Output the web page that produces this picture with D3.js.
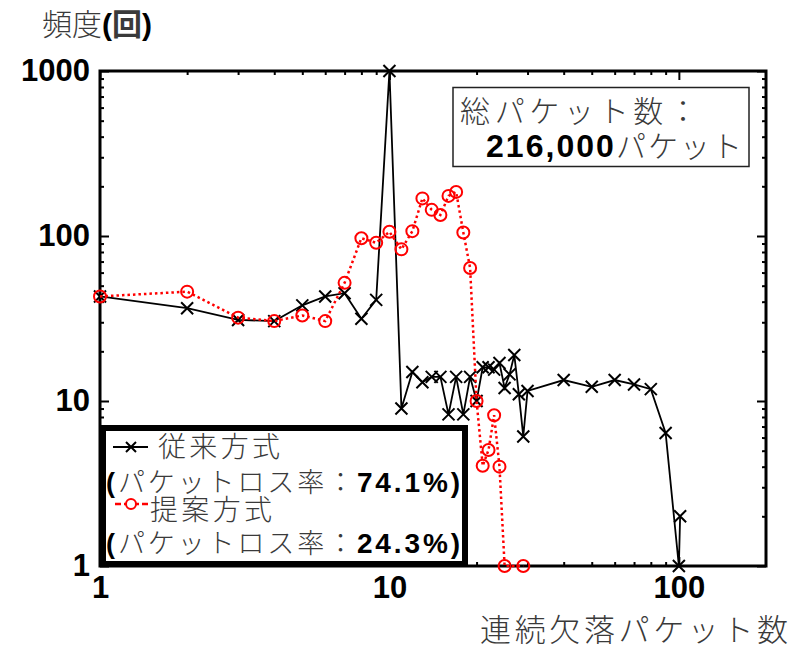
<!DOCTYPE html>
<html><head><meta charset="utf-8">
<script src="https://cdn.jsdelivr.net/npm/d3@7"></script>
<style>
body{margin:0;background:#fff;}
svg{display:block;}
.jp{font-family:"Noto Sans CJK JP","Noto Sans CJK SC",sans-serif;font-weight:300;fill:#3a3a3a;}
.num{font-family:"Liberation Sans",Arial,sans-serif;font-weight:bold;fill:#000;}
</style></head>
<body>
<svg id="chart" width="803" height="650"></svg>
<script>
// ---- data ----
const conventionalX = [1,2,3,4,5,6,7,8,9,10,11,12,13,14,15,16,17,18,19,20,21,22,23,24,25,26,27,28,29,30,40,50,60,70,80,90,100,101];
const conventionalY = [43,36.5,31,30.5,38,43,45,31.5,41,1000,9,15,13,14,14,8.3,14,8.3,14,10,16,16,15.5,17,12,14.5,19,11,6.1,11.5,13.4,12.2,13.4,12.6,11.8,6.4,1,2];
const proposedX = [1,2,3,4,5,6,7,8,9,10,11,12,13,14,15,16,17,18,19,20,21,22,23,24,25,29];
const proposedY = [43,46,32,30.5,33,30.5,52,97,91,106,83,107,169,144,134,175,185,105,64,10,4.05,5.05,8.2,4.0,1,1];
const xMajorTicks = [1,10,100];
const yMajorTicks = [1,10,100,1000];
const xTickLabels = ["1","10","100"];
const yTickLabels = ["1","10","100","1000"];
const seriesNames = ["従来方式","提案方式"];
const lossRates = ["74.1%","24.3%"];
const totalPackets = "216,000";
const yAxisTitle = "頻度";
const xAxisTitle = "連続欠落パケット数";

// ---- layout ----
const L=100, R=766, T=71, B=566;
const svg = d3.select("#chart");
const x = d3.scaleLog().domain([1,200]).range([L,R]);
const y = d3.scaleLog().domain([1,1000]).range([B,T]);

function minorTicks(lo,hi){
  const out=[];
  for(let d=lo; d<hi; d*=10){ for(let k=2;k<=9;k++){ const v=k*d; if(v<hi) out.push(v);} }
  return out;
}
const xMinor = minorTicks(1,200);
const yMinor = minorTicks(1,1000);

function styleAxis(g){ g.select(".domain").remove(); g.selectAll("line").attr("stroke","#000").attr("stroke-width",2); }

// ticks (inside)
svg.append("g").attr("transform",`translate(0,${B})`).call(d3.axisBottom(x).tickValues(xMajorTicks).tickSize(-9).tickFormat("")).call(styleAxis);
svg.append("g").attr("transform",`translate(0,${B})`).call(d3.axisBottom(x).tickValues(xMinor).tickSize(-4).tickFormat("")).call(styleAxis);
svg.append("g").attr("transform",`translate(0,${T})`).call(d3.axisTop(x).tickValues(xMajorTicks).tickSize(-9).tickFormat("")).call(styleAxis);
svg.append("g").attr("transform",`translate(0,${T})`).call(d3.axisTop(x).tickValues(xMinor).tickSize(-4).tickFormat("")).call(styleAxis);
svg.append("g").attr("transform",`translate(${L},0)`).call(d3.axisLeft(y).tickValues(yMajorTicks).tickSize(-9).tickFormat("")).call(styleAxis);
svg.append("g").attr("transform",`translate(${L},0)`).call(d3.axisLeft(y).tickValues(yMinor).tickSize(-4).tickFormat("")).call(styleAxis);
svg.append("g").attr("transform",`translate(${R},0)`).call(d3.axisRight(y).tickValues(yMajorTicks).tickSize(-9).tickFormat("")).call(styleAxis);
svg.append("g").attr("transform",`translate(${R},0)`).call(d3.axisRight(y).tickValues(yMinor).tickSize(-4).tickFormat("")).call(styleAxis);

// tick labels
const xl = svg.append("g").attr("transform",`translate(0,${B})`)
  .call(d3.axisBottom(x).tickValues(xMajorTicks).tickSize(0).tickPadding(10).tickFormat((d,i)=>xTickLabels[i]));
xl.select(".domain").remove();
xl.selectAll("text").attr("class","num").style("font-size","31px").attr("font-family",null).attr("fill","#000");
const yl = svg.append("g").attr("transform",`translate(${L},0)`)
  .call(d3.axisLeft(y).tickValues(yMajorTicks).tickSize(0).tickPadding(10).tickFormat((d,i)=>yTickLabels[i]));
yl.select(".domain").remove();
yl.selectAll("text").attr("class","num").style("font-size","31px").attr("font-family",null).attr("fill","#000");

// frame
svg.append("rect").attr("x",L).attr("y",T).attr("width",R-L).attr("height",B-T)
  .attr("fill","none").attr("stroke","#000").attr("stroke-width",3);

// series
const conv = conventionalX.map((v,i)=>[v,conventionalY[i]]);
const prop = proposedX.map((v,i)=>[v,proposedY[i]]);
const line = d3.line().x(d=>x(d[0])).y(d=>y(d[1]));

svg.append("path").datum(conv).attr("d",line).attr("fill","none").attr("stroke","#000").attr("stroke-width",1.8);
svg.append("g").selectAll("path").data(conv).join("path")
  .attr("transform",d=>`translate(${x(d[0])},${y(d[1])})`)
  .attr("d","M-6,-6L6,6M-6,6L6,-6").attr("stroke","#000").attr("stroke-width",2).attr("fill","none");

svg.append("path").datum(prop).attr("d",line).attr("fill","none").attr("stroke","#ff0000")
  .attr("stroke-width",2.5).attr("stroke-dasharray","2.5,3");
svg.append("g").selectAll("circle").data(prop).join("circle")
  .attr("cx",d=>x(d[0])).attr("cy",d=>y(d[1])).attr("r",6)
  .attr("fill","none").attr("stroke","#ff0000").attr("stroke-width",2);

// info box
svg.append("rect").attr("x",453).attr("y",87.5).attr("width",296).attr("height",79)
  .attr("fill","#fff").attr("stroke","#222").attr("stroke-width",1.5);
svg.append("text").attr("class","jp").attr("x",460).attr("y",122).style("font-size","30px")
  .attr("textLength",238).attr("lengthAdjust","spacing").text("総パケット数：");
const t2 = svg.append("text").attr("x",486).attr("y",157).attr("textLength",256).attr("lengthAdjust","spacing");
t2.append("tspan").attr("class","num").style("font-size","32px").text(totalPackets);
t2.append("tspan").attr("class","jp").style("font-size","30px").text("パケット");

// legend
svg.append("rect").attr("x",103).attr("y",428).attr("width",362).attr("height",136)
  .attr("fill","#fff").attr("stroke","#000").attr("stroke-width",6);
const leg = svg.append("g");
leg.append("line").attr("x1",113).attr("x2",148).attr("y1",447).attr("y2",447).attr("stroke","#000").attr("stroke-width",2);
leg.append("path").attr("transform","translate(131,447)").attr("d","M-5,-5L5,5M-5,5L5,-5").attr("stroke","#000").attr("stroke-width",2);
leg.append("text").attr("class","jp").attr("x",158).attr("y",457).style("font-size","28px")
  .attr("textLength",122).attr("lengthAdjust","spacing").text(seriesNames[0]);
leg.append("line").attr("x1",115).attr("x2",148).attr("y1",504).attr("y2",504).attr("stroke","#ff0000").attr("stroke-width",2.5).attr("stroke-dasharray","6,3");
leg.append("circle").attr("cx",131).attr("cy",504).attr("r",5).attr("fill","#fff").attr("stroke","#ff0000").attr("stroke-width",2);
leg.append("text").attr("class","jp").attr("x",150).attr("y",520).style("font-size","28px")
  .attr("textLength",122).attr("lengthAdjust","spacing").text(seriesNames[1]);
[492,553].forEach((by,i)=>{
  const t = leg.append("text").attr("x",106).attr("y",by).attr("textLength",354).attr("lengthAdjust","spacing");
  t.append("tspan").attr("class","num").style("font-size","27px").text("(");
  t.append("tspan").attr("class","jp").style("font-size","27px").text("パケットロス率：");
  t.append("tspan").attr("class","num").style("font-size","28px").text(lossRates[i]);
  t.append("tspan").attr("class","num").style("font-size","28px").text(")");
});

// axis titles
const yt = svg.append("text").attr("x",42).attr("y",35);
yt.append("tspan").attr("class","jp").style("font-size","30px").text(yAxisTitle);
yt.append("tspan").attr("class","num").style("font-size","30px").text("(");
yt.append("tspan").attr("class","jp").style("font-size","30px").style("font-weight","bold").text("回");
yt.append("tspan").attr("class","num").style("font-size","30px").text(")");
svg.append("text").attr("class","jp").attr("x",480).attr("y",641).style("font-size","31px")
  .attr("textLength",308).attr("lengthAdjust","spacing").text(xAxisTitle);
</script>
</body></html>
